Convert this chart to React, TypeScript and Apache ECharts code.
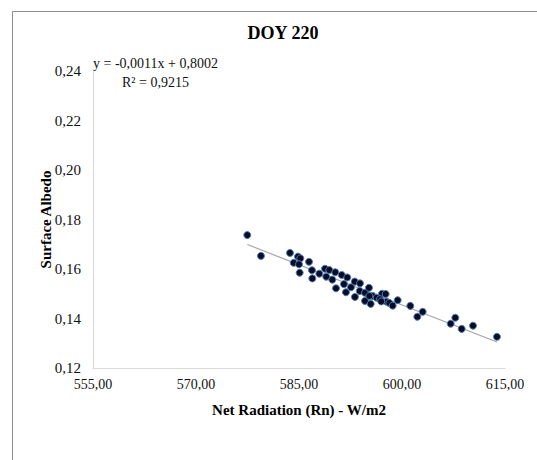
import React, { useEffect, useRef } from "react";
import * as echarts from "echarts";

// Net radiation (W/m2) per pixel sample, DOY 220
const netRadiation = [
  577.47, 579.46, 583.69, 584.85, 585.19, 584.23, 585.0, 586.46, 585.1, 586.89,
  586.94, 587.96, 588.79, 589.41, 588.97, 590.28, 589.85, 591.22, 590.39, 592.03,
  591.55, 591.84, 592.57, 593.11, 593.88, 593.84, 593.15, 594.61, 595.19, 594.61,
  595.44, 595.73, 596.31, 597.09, 596.79, 597.62, 597.77, 595.24, 596.98, 598.15,
  598.64, 599.37, 601.21, 602.23, 603.01, 607.09, 607.76, 608.69, 610.34, 613.83,
];

// Surface albedo for the same samples
const surfaceAlbedo = [
  0.1737, 0.1653, 0.1665, 0.165, 0.1643, 0.1625, 0.1619, 0.1629, 0.1585, 0.1595,
  0.1562, 0.1581, 0.1601, 0.1596, 0.1569, 0.1587, 0.1557, 0.1576, 0.1522, 0.1566,
  0.1539, 0.1506, 0.1526, 0.1549, 0.1542, 0.1511, 0.1487, 0.1504, 0.1524, 0.1471,
  0.1459, 0.1491, 0.1484, 0.15, 0.1478, 0.1499, 0.1468, 0.1491, 0.1469, 0.1463,
  0.1452, 0.1474, 0.1451, 0.1407, 0.1427, 0.1379, 0.1403, 0.1358, 0.1371, 0.1326,
];

const chartTitle = "DOY 220";
const equationText = "y = -0,0011x + 0,8002";
const r2Text = "R² = 0,9215";
const xAxisTitle = "Net Radiation (Rn) - W/m2";
const yAxisTitle = "Surface Albedo";

const SERIF = '"Liberation Serif", "Times New Roman", serif';

// Ordinary least-squares line through the samples
function linearFit(xs: number[], ys: number[]) {
  const n = xs.length;
  const mx = xs.reduce((a, b) => a + b, 0) / n;
  const my = ys.reduce((a, b) => a + b, 0) / n;
  let sxy = 0;
  let sxx = 0;
  for (let i = 0; i < n; i++) {
    sxy += (xs[i] - mx) * (ys[i] - my);
    sxx += (xs[i] - mx) * (xs[i] - mx);
  }
  const slope = sxy / sxx;
  return { slope, intercept: my - slope * mx };
}

const commaFormat = (v: number) => v.toFixed(2).replace(".", ",");

export default function App() {
  const ref = useRef<HTMLDivElement>(null);

  useEffect(() => {
    if (!ref.current) return;
    const chart = echarts.init(ref.current, undefined, { renderer: "svg" });

    const points = netRadiation.map((x, i) => [x, surfaceAlbedo[i]]);
    const { slope, intercept } = linearFit(netRadiation, surfaceAlbedo);
    const xMin = Math.min(...netRadiation);
    const xMax = Math.max(...netRadiation);
    const trend = [
      [xMin, slope * xMin + intercept],
      [xMax, slope * xMax + intercept],
    ];

    chart.setOption({
      animation: false,
      backgroundColor: "#ffffff",
      grid: { left: 93, right: 32, top: 71, bottom: 92 },
      graphic: [
        {
          type: "rect",
          shape: { x: 12.5, y: 11.5, width: 600, height: 500 },
          style: { fill: "none", stroke: "#8c8c8c", lineWidth: 1 },
          silent: true,
        },
        {
          type: "text",
          x: 283,
          y: 33,
          style: {
            text: chartTitle,
            font: `bold 18px ${SERIF}`,
            fill: "#000",
            textAlign: "center",
            textVerticalAlign: "middle",
          },
        },
        {
          type: "text",
          x: 93,
          y: 63,
          style: {
            text: equationText,
            font: `14px ${SERIF}`,
            fill: "#111",
            textAlign: "left",
            textVerticalAlign: "middle",
          },
        },
        {
          type: "text",
          x: 122,
          y: 82,
          style: {
            text: r2Text,
            font: `14px ${SERIF}`,
            fill: "#111",
            textAlign: "left",
            textVerticalAlign: "middle",
          },
        },
      ],
      xAxis: {
        type: "value",
        min: 555,
        max: 615,
        interval: 15,
        name: xAxisTitle,
        nameLocation: "middle",
        nameGap: 34,
        nameMoveOverlap: false,
        nameTextStyle: {
          fontFamily: SERIF,
          fontWeight: "bold",
          fontSize: 15,
          color: "#000",
        },
        axisLine: { lineStyle: { color: "#d9d9d9", width: 1 } },
        axisTick: { show: false },
        splitLine: { show: false },
        axisLabel: {
          formatter: commaFormat,
          fontFamily: SERIF,
          fontSize: 14,
          color: "#111",
          margin: 9,
        },
      },
      yAxis: {
        type: "value",
        min: 0.12,
        max: 0.24,
        interval: 0.02,
        name: yAxisTitle,
        nameLocation: "middle",
        nameGap: 40,
        nameMoveOverlap: false,
        nameTextStyle: {
          fontFamily: SERIF,
          fontWeight: "bold",
          fontSize: 15,
          color: "#000",
        },
        axisLine: { show: true, lineStyle: { color: "#d9d9d9", width: 1 } },
        axisTick: { show: false },
        splitLine: { show: false },
        axisLabel: {
          formatter: commaFormat,
          fontFamily: SERIF,
          fontSize: 15,
          color: "#111",
          margin: 12,
        },
      },
      series: [
        {
          type: "line",
          data: trend,
          symbol: "none",
          lineStyle: { color: "#a6a6a6", width: 1.2 },
          silent: true,
          z: 1,
        },
        {
          type: "scatter",
          data: points,
          symbol: "circle",
          symbolSize: 7,
          itemStyle: {
            color: "#0b0b24",
            borderColor: "#4a7ebb",
            borderWidth: 1,
            opacity: 1,
          },
          z: 2,
        },
      ],
    });

    return () => chart.dispose();
  }, []);

  return (
    <div
      ref={ref}
      style={{ position: "fixed", left: 0, top: 0, width: 537, height: 460 }}
    />
  );
}
